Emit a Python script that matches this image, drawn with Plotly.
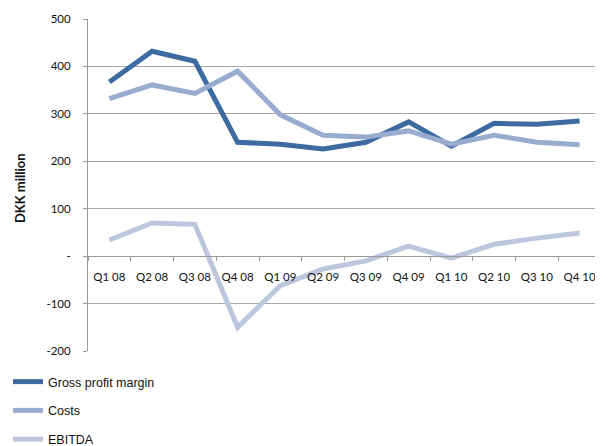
import plotly.graph_objects as go

quarters = ["Q1 08", "Q2 08", "Q3 08", "Q4 08", "Q1 09", "Q2 09", "Q3 09", "Q4 09",
            "Q1 10", "Q2 10", "Q3 10", "Q4 10"]
gross_profit_margin = [367, 432, 411, 240, 236, 226, 240, 283, 232, 280, 278, 285]
costs = [332, 361, 343, 390, 298, 255, 251, 264, 236, 255, 240, 235]
ebitda = [34, 70, 67, -150, -62, -27, -10, 21, -4, 25, 38, 49]

ytick_vals = [-200, -100, 0, 100, 200, 300, 400, 500]
ytick_text = ["-200", "-100", "-", "100", "200", "300", "400", "500"]

series = [
    ("Gross profit margin", gross_profit_margin, "#3D6AA0"),
    ("Costs", costs, "#98ACD0"),
    ("EBITDA", ebitda, "#BCC7DD"),
]

fig = go.Figure()
for name, vals, color in series:
    fig.add_trace(go.Scatter(
        x=quarters, y=vals, name=name, mode="lines",
        line=dict(color=color, width=5), legendgroup=name,
    ))

tick_font = dict(family="Lato, Carlito, Open Sans, sans-serif", size=11.5, color="#111111")

fig.update_layout(
    width=603, height=446,
    margin=dict(l=80, r=10, t=11, b=103, autoexpand=False),
    paper_bgcolor="white", plot_bgcolor="white",
    showlegend=True,
    legend=dict(
        orientation="v", x=0.0, xref="container", y=0.0, yref="container",
        xanchor="left", yanchor="bottom",
        font=dict(family="Liberation Sans, Arial, sans-serif", size=12.5, color="#111111"),
        tracegroupgap=9.5, itemwidth=30,
        bgcolor="rgba(0,0,0,0)",
    ),
    xaxis=dict(
        type="category", range=[-0.5, 11.5],
        anchor="free", position=2/7,
        showline=True, linecolor="#9A9A9A", linewidth=1,
        ticks="outside", ticklen=4, tickcolor="#9A9A9A", tickson="boundaries",
        showgrid=False, tickfont=tick_font, ticklabelstandoff=10, tickangle=0,
        zeroline=False, automargin=False,
    ),
    yaxis=dict(
        range=[-200, 500], tickvals=ytick_vals, ticktext=ytick_text,
        showline=True, linecolor="#9A9A9A", linewidth=1,
        ticks="outside", ticklen=4, tickcolor="#9A9A9A",
        showgrid=True, gridcolor="#A8A8A8", gridwidth=1,
        zeroline=False, tickfont=tick_font, ticklabelstandoff=10, automargin=False,
    ),
    annotations=[dict(
        text="<b>DKK million</b>", textangle=-90,
        xref="paper", yref="paper", x=-0.131, y=0.49,
        xanchor="center", yanchor="middle", showarrow=False,
        font=dict(family="Lato, Carlito, sans-serif", size=13, color="#111111"),
    )],
)

fig.write_html("out.html")
